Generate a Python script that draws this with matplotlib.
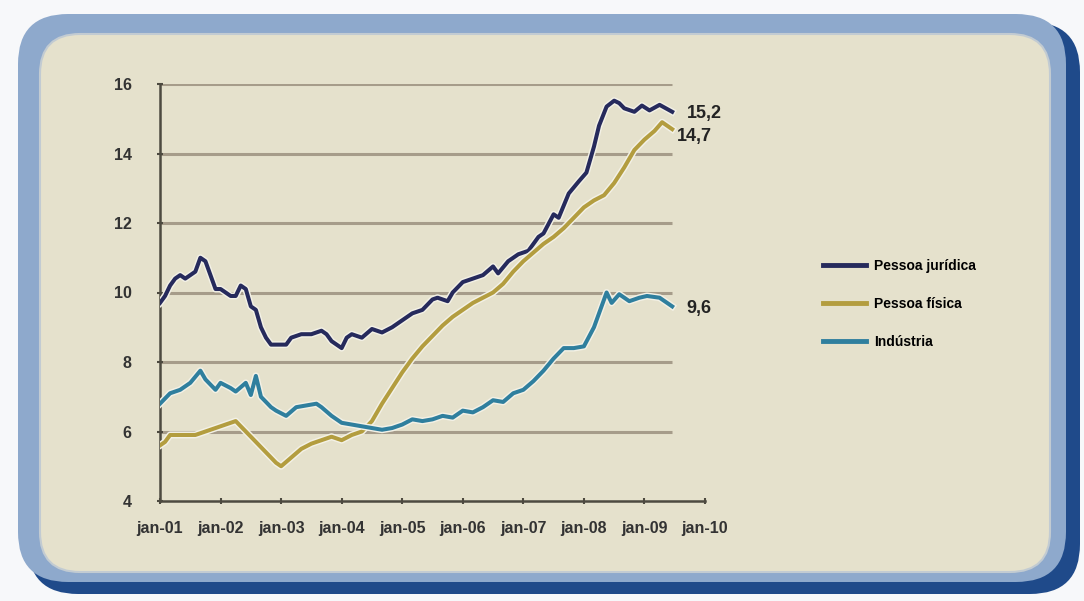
import matplotlib.pyplot as plt
import matplotlib.patheffects as pe
from matplotlib.patches import FancyBboxPatch

plt.rcParams['font.family'] = ['Liberation Sans', 'DejaVu Sans']

# months counted from jan-01
pj_months = [0, 1, 2, 3, 4, 5, 6, 7, 8, 9, 10, 11, 12, 14, 15, 16, 17, 18, 19, 20,
             21, 22, 24, 25, 26, 28, 30, 32, 33, 34, 36, 37, 38, 40, 42, 44, 46, 48,
             50, 52, 54, 55, 57, 58, 60, 62, 64, 66, 67, 69, 71, 73, 75, 76, 78, 79,
             81, 83, 84.5, 86, 87, 88.5, 90, 91, 92, 94, 95.5, 97, 99, 101.5]
pj_values = [9.7, 9.9, 10.2, 10.4, 10.5, 10.4, 10.5, 10.6, 11.0, 10.9, 10.5, 10.1, 10.1,
             9.9, 9.9, 10.2, 10.1, 9.6, 9.5, 9.0, 8.7, 8.5, 8.5, 8.5, 8.7, 8.8, 8.8,
             8.9, 8.8, 8.6, 8.4, 8.7, 8.8, 8.7, 8.95, 8.85, 9.0, 9.2, 9.4, 9.5, 9.8,
             9.85, 9.75, 10.0, 10.3, 10.4, 10.5, 10.75, 10.55, 10.9, 11.1, 11.2, 11.6,
             11.7, 12.25, 12.15, 12.85, 13.2, 13.45, 14.2, 14.8, 15.35, 15.52, 15.45,
             15.3, 15.2, 15.38, 15.24, 15.4, 15.2]

pf_months = [0, 1, 2, 4, 7, 9, 11, 13, 15, 17, 19, 21, 23, 24, 26, 28, 30, 32, 34, 36,
             38, 40, 42, 44, 46, 48, 50, 52, 54, 56, 58, 60, 62, 64, 66, 68, 70, 72, 74,
             76, 78, 80, 82, 84, 86, 88, 90, 92, 94, 96, 98, 99.5, 101.5]
pf_values = [5.6, 5.7, 5.9, 5.9, 5.9, 6.0, 6.1, 6.2, 6.3, 6.0, 5.7, 5.4, 5.1, 5.0, 5.25,
             5.5, 5.65, 5.75, 5.85, 5.75, 5.9, 6.0, 6.3, 6.8, 7.25, 7.7, 8.1, 8.45, 8.75,
             9.05, 9.3, 9.5, 9.7, 9.85, 10.0, 10.25, 10.6, 10.9, 11.15, 11.4, 11.6,
             11.85, 12.15, 12.45, 12.65, 12.8, 13.15, 13.6, 14.1, 14.4, 14.65, 14.9, 14.7]

ind_months = [0, 2, 4, 6, 8, 9, 11, 12, 14, 15, 17, 18, 19, 20, 22, 23, 25, 27, 29, 31,
              32, 34, 36, 38, 40, 42, 44, 46, 48, 50, 52, 54, 56, 58, 60, 62, 64, 66, 68,
              70, 72, 74, 76, 78, 80, 82, 84, 86, 87.5, 88.5, 89.5, 91, 93, 95, 96.5, 99,
              100, 101.5]
ind_values = [6.8, 7.1, 7.2, 7.4, 7.75, 7.5, 7.2, 7.4, 7.25, 7.15, 7.4, 7.05, 7.6, 7.0,
              6.7, 6.6, 6.45, 6.7, 6.75, 6.8, 6.7, 6.45, 6.25, 6.2, 6.15, 6.1, 6.05, 6.1,
              6.2, 6.35, 6.3, 6.35, 6.45, 6.4, 6.6, 6.55, 6.7, 6.9, 6.85, 7.1, 7.2, 7.45,
              7.75, 8.1, 8.4, 8.4, 8.45, 9.0, 9.6, 10.0, 9.7, 9.95, 9.75, 9.85, 9.9, 9.85,
              9.75, 9.6]

series_names = ['Pessoa jurídica', 'Pessoa física', 'Indústria']
series_colors = ['#262a5c', '#b39d3f', '#2f7f9e']
end_labels = ['15,2', '14,7', '9,6']

x_ticks = list(range(0, 109, 12))
x_labels = ['jan-01', 'jan-02', 'jan-03', 'jan-04', 'jan-05',
            'jan-06', 'jan-07', 'jan-08', 'jan-09', 'jan-10']
y_ticks = [4, 6, 8, 10, 12, 14, 16]

fig = plt.figure(figsize=(10.84, 6.01), dpi=100)
fig.patch.set_facecolor('#f7f8fa')

# rounded panel with blue frame (pixel box, top-left origin)
def panel(x0, y0, x1, y1, r, fc, ec, lw, z):
    p = FancyBboxPatch((x0 / 100, (601 - y1) / 100), (x1 - x0) / 100, (y1 - y0) / 100,
                       boxstyle='round,pad=0,rounding_size=%g' % r,
                       transform=fig.dpi_scale_trans, fc=fc, ec=ec, lw=lw, zorder=z)
    fig.patches.append(p)

panel(28, 22, 1080, 594, 0.5, '#1f4a8a', 'none', 0, 0)
panel(18, 14, 1066, 582, 0.5, '#8ea9cc', 'none', 0, 1)
panel(40, 34, 1050, 572, 0.4, '#e5e1cc', '#c2cbd2', 1.5, 3)

ax = fig.add_axes([160 / 1084, 100 / 601, 545 / 1084, 417 / 601])
ax.set_facecolor('none')
ax.set_zorder(5)
ax.set_xlim(0, 108)
ax.set_ylim(4, 16)

last = max(pj_months[-1], pf_months[-1], ind_months[-1])
ax.hlines(y_ticks[1:], 0, last, colors='#a69c8a', lw=2.2, zorder=1)

halo = [pe.withStroke(linewidth=5, foreground='#f3f1e6')]
all_m = [pj_months, pf_months, ind_months]
all_v = [pj_values, pf_values, ind_values]
for m, v, name, c in zip(all_m, all_v, series_names, series_colors):
    ax.plot(m, v, color=c, lw=2.9, label=name, solid_joinstyle='round',
            path_effects=halo, zorder=3)

label_y = [15.15, 14.5, 9.55]
label_x = [104.4, 102.4, 104.4]
for tx, ty, t in zip(label_x, label_y, end_labels):
    ax.text(tx, ty, t, ha='left', va='center', fontsize=13, fontweight='bold',
            color='#232323', clip_on=False)

for s in ['top', 'right']:
    ax.spines[s].set_visible(False)
for s in ['left', 'bottom']:
    ax.spines[s].set_color('#4d4a40')
    ax.spines[s].set_linewidth(1.8)

ax.set_xticks(x_ticks)
ax.set_xticklabels(x_labels)
ax.set_yticks(y_ticks)
ax.tick_params(axis='both', colors='#4d4a40', labelcolor='#333333', labelsize=11.5,
               direction='inout', length=5, width=1.5)
for lab in ax.get_xticklabels() + ax.get_yticklabels():
    lab.set_fontweight('bold')
ax.tick_params(axis='x', pad=12)
ax.tick_params(axis='y', pad=18)

fig.legend(loc='center left', bbox_to_anchor=(823 / 1084, (601 - 304) / 601),
           frameon=False, prop={'size': 10, 'weight': 'bold'}, handlelength=3.1,
           handletextpad=0.6, labelspacing=1.75, borderpad=0, borderaxespad=0)
for h in fig.legends[0].get_lines():
    h.set_linewidth(3.5)
    h.set_path_effects([])

fig.savefig('out.png', dpi=100, facecolor=fig.get_facecolor())
